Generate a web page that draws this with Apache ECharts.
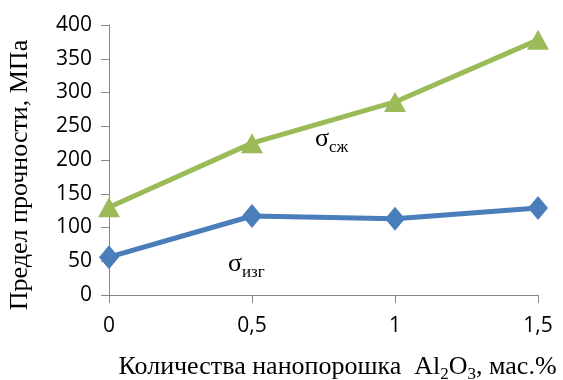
<!DOCTYPE html>
<html><head><meta charset="utf-8">
<script src="https://cdn.jsdelivr.net/npm/echarts@6/dist/echarts.min.js"></script>
<style>html,body{margin:0;padding:0;background:#fff}#c{width:563px;height:380px}</style>
</head><body><div id="c"></div>
<script>
const xValues = [0, 0.5, 1, 1.5];
const sigmaCompression = [130, 225, 286, 378];
const sigmaBending = [56, 117, 113, 129];
const yTicks = {min: 0, max: 400, interval: 50};
const xTicks = {min: 0, max: 1.5, interval: 0.5};

const chart = echarts.init(document.getElementById('c'), null, {renderer: 'canvas'});
const serif = '"Liberation Serif", "Times New Roman", serif';
const sans = '"Open Sans", "Liberation Sans", sans-serif';
const axisLine = {show: true, lineStyle: {color: '#868686', width: 1}};
chart.setOption({
  animation: false,
  grid: {left: 109, right: 25, top: 25, bottom: 85, outerBoundsMode: 'none', containLabel: false},
  xAxis: {
    type: 'value', min: xTicks.min, max: xTicks.max, interval: xTicks.interval,
    axisLine: axisLine,
    axisTick: {show: true, inside: false, length: 8, lineStyle: {color: '#868686'}},
    splitLine: {show: false},
    axisLabel: {fontFamily: sans, fontSize: 21, color: '#000', margin: 21,
      formatter: v => String(v).replace('.', ',')},
    name: '{m|Количества нанопорошка  Al}{s|2}{m|O}{s|3}{m|, мас.%}',
    nameLocation: 'middle', nameGap: 55,
    nameTextStyle: {padding: [0, 0, 0, 28],
      rich: {
        m: {fontFamily: serif, fontSize: 26, color: '#000', lineHeight: 30, verticalAlign: 'bottom'},
        s: {fontFamily: serif, fontSize: 17, color: '#000', lineHeight: 17, verticalAlign: 'bottom', padding: [0, 0, -3, 0]}
      }}
  },
  yAxis: {
    type: 'value', min: yTicks.min, max: yTicks.max, interval: yTicks.interval,
    axisLine: axisLine,
    axisTick: {show: true, inside: false, length: 8, lineStyle: {color: '#868686'}},
    splitLine: {show: false},
    axisLabel: {fontFamily: sans, fontSize: 21, color: '#000', margin: 17},
    name: 'Предел прочности, МПа',
    nameLocation: 'middle', nameGap: 76,
    nameTextStyle: {fontFamily: serif, fontSize: 26, color: '#000', padding: [0, 0, 0, -30]}
  },
  series: [
    {type: 'line', data: xValues.map((x, i) => [x, sigmaCompression[i]]),
     lineStyle: {color: '#9BBB59', width: 5}, itemStyle: {color: '#9BBB59'},
     symbol: 'triangle', symbolSize: [22, 20], z: 3},
    {type: 'line', data: xValues.map((x, i) => [x, sigmaBending[i]]),
     lineStyle: {color: '#4A7EBB', width: 5}, itemStyle: {color: '#4A7EBB'},
     symbol: 'diamond', symbolSize: [20, 24], z: 4}
  ],
  graphic: [
    {type: 'text', left: 315, top: 126, style: {
      text: '{g|σ}{s|сж}',
      rich: {g: {fontFamily: serif, fontSize: 26, fill: '#000', lineHeight: 30, verticalAlign: 'bottom'},
             s: {fontFamily: serif, fontSize: 17, fill: '#000', lineHeight: 17, verticalAlign: 'bottom', padding: [0,0,-4,0]}}}},
    {type: 'text', left: 228, top: 251, style: {
      text: '{g|σ}{s|изг}',
      rich: {g: {fontFamily: serif, fontSize: 26, fill: '#000', lineHeight: 30, verticalAlign: 'bottom'},
             s: {fontFamily: serif, fontSize: 17, fill: '#000', lineHeight: 17, verticalAlign: 'bottom', padding: [0,0,-4,0]}}}}
  ]
});
</script></body></html>
